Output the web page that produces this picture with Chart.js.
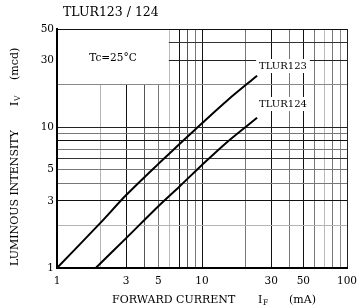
<!DOCTYPE html>
<html>
<head>
<meta charset="utf-8">
<script src="https://cdn.jsdelivr.net/npm/chart.js@4"></script>
<style>
  body { margin: 0; background: #fff; }
  #wrap { width: 357px; height: 308px; }
</style>
</head>
<body>
<div id="wrap"><canvas id="ivChart" width="357" height="308"></canvas></div>
<script>
// forward current (mA) vs luminous intensity (mcd)
const currentTLUR123 = [1, 2, 3, 5, 7, 10, 15, 24];
const intensityTLUR123 = [1, 2.1, 3.3, 5.5, 7.6, 10.7, 15.6, 23.3];
const currentTLUR124 = [1.85, 3, 5, 7, 10, 15, 24];
const intensityTLUR124 = [1, 1.63, 2.75, 3.8, 5.4, 7.9, 11.7];

// grid + tick labels
const xGrid = [1, 2, 3, 4, 5, 6, 7, 8, 9, 10, 20, 30, 40, 50, 60, 70, 80, 90, 100];
const yGrid = [1, 2, 3, 4, 5, 6, 7, 8, 9, 10, 20, 30, 40, 50];
const xLabels = [1, 3, 5, 10, 30, 50, 100];
const yLabels = [1, 3, 5, 10, 30, 50];

const SERIF = '"DejaVu Serif", "Liberation Serif", serif';

// scanned sheet: grid lines are not all the same shade
const xShade = { 2: '#b4b4b4', 3: '#111', 4: '#555', 5: '#777', 6: '#bbb', 7: '#111', 8: '#555', 9: '#777', 10: '#111',
    20: '#777', 30: '#111', 40: '#777', 50: '#111', 60: '#777', 70: '#bbb', 80: '#777', 90: '#888', 100: '#222' };
const yShade = { 2: '#b4b4b4', 3: '#111', 4: '#777', 5: '#777', 6: '#333', 7: '#777', 8: '#111', 9: '#777', 10: '#222',
    20: '#888', 30: '#222', 40: '#333', 50: '#111' };

function toPoints(xs, ys) {
    return xs.map((x, i) => ({ x: x, y: ys[i] }));
}

const sheetText = {
    id: 'sheetText',
    beforeDatasetsDraw(chart) {
        const { ctx, scales: { x, y } } = chart;
        // blank box for the temperature note
        const l = x.getPixelForValue(1) + 1, r = x.getPixelForValue(6) - 1;
        const t = y.getPixelForValue(50) + 1, b = y.getPixelForValue(20) - 1;
        ctx.save();
        ctx.fillStyle = '#fff';
        ctx.fillRect(l, t, r - l, b - t);
        ctx.fillStyle = '#000';
        ctx.font = '10.5px ' + SERIF;
        ctx.textAlign = 'center';
        ctx.textBaseline = 'middle';
        ctx.fillText('Tc=25°C', 113, 58);
        ctx.restore();
    },
    afterDatasetsDraw(chart) {
        const { ctx } = chart;
        ctx.save();
        ctx.font = '10px ' + SERIF;
        ctx.textAlign = 'center';
        ctx.textBaseline = 'middle';
        [['TLUR123', 283, 66], ['TLUR124', 283, 104]].forEach(([txt, cx, cy]) => {
            const w = ctx.measureText(txt).width;
            ctx.fillStyle = '#fff';
            ctx.fillRect(cx - w / 2 - 3, cy - 7, w + 6, 14);
            ctx.fillStyle = '#000';
            ctx.fillText(txt, cx, cy);
        });

        // title
        ctx.textAlign = 'left';
        ctx.font = '12.5px ' + SERIF;
        ctx.fillText('TLUR123 / 124', 63, 13);

        // x axis title
        ctx.font = '11px ' + SERIF;
        ctx.fillText('FORWARD CURRENT', 112, 300);
        ctx.fillText('I', 258, 300);
        ctx.font = '7.5px ' + SERIF;
        ctx.fillText('F', 263, 303);
        ctx.font = '11px ' + SERIF;
        ctx.fillText('(mA)', 289, 300);

        // y axis title
        ctx.translate(15, 266);
        ctx.rotate(-Math.PI / 2);
        ctx.fillText('LUMINOUS INTENSITY', 0, 0);
        ctx.fillText('I', 160, 0);
        ctx.font = '7.5px ' + SERIF;
        ctx.fillText('V', 165, 3);
        ctx.font = '11px ' + SERIF;
        ctx.fillText('(mcd)', 186, 0);
        ctx.restore();
    }
};

const ctx = document.getElementById('ivChart').getContext('2d');
new Chart(ctx, {
    type: 'scatter',
    data: {
        datasets: [{
            label: 'TLUR123',
            data: toPoints(currentTLUR123, intensityTLUR123),
            showLine: true,
            borderColor: '#000',
            borderWidth: 2,
            pointRadius: 0,
            tension: 0.3
        }, {
            label: 'TLUR124',
            data: toPoints(currentTLUR124, intensityTLUR124),
            showLine: true,
            borderColor: '#000',
            borderWidth: 2,
            pointRadius: 0,
            tension: 0.3
        }]
    },
    options: {
        responsive: false,
        animation: false,
        layout: { padding: { top: 29, right: 10, left: 0, bottom: 0 } },
        plugins: { legend: { display: false }, tooltip: { enabled: false } },
        scales: {
            x: {
                type: 'logarithmic',
                min: 1,
                max: 100,
                afterBuildTicks: s => { s.ticks = xGrid.map(v => ({ value: v })); },
                afterFit: s => { s.height = 40; s.paddingLeft = 0; s.paddingRight = 0; },
                grid: {
                    color: c => xShade[c.tick && c.tick.value] || '#000',
                    lineWidth: 1,
                    drawTicks: false
                },
                border: { display: true, color: '#000', width: 2 },
                ticks: {
                    autoSkip: false,
                    maxRotation: 0,
                    padding: 7,
                    color: '#000',
                    font: { family: SERIF, size: 10.5 },
                    callback: v => xLabels.includes(v) ? String(v) : ''
                }
            },
            y: {
                type: 'logarithmic',
                min: 1,
                max: 50,
                afterBuildTicks: s => { s.ticks = yGrid.map(v => ({ value: v })); },
                afterFit: s => { s.width = 57; },
                grid: {
                    color: c => yShade[c.tick && c.tick.value] || '#000',
                    lineWidth: 1,
                    drawTicks: false
                },
                border: { display: true, color: '#000', width: 2 },
                ticks: {
                    autoSkip: false,
                    padding: 3,
                    color: '#000',
                    font: { family: SERIF, size: 10.5 },
                    callback: v => yLabels.includes(v) ? String(v) : ''
                }
            }
        }
    },
    plugins: [sheetText]
});
</script>
</body>
</html>
